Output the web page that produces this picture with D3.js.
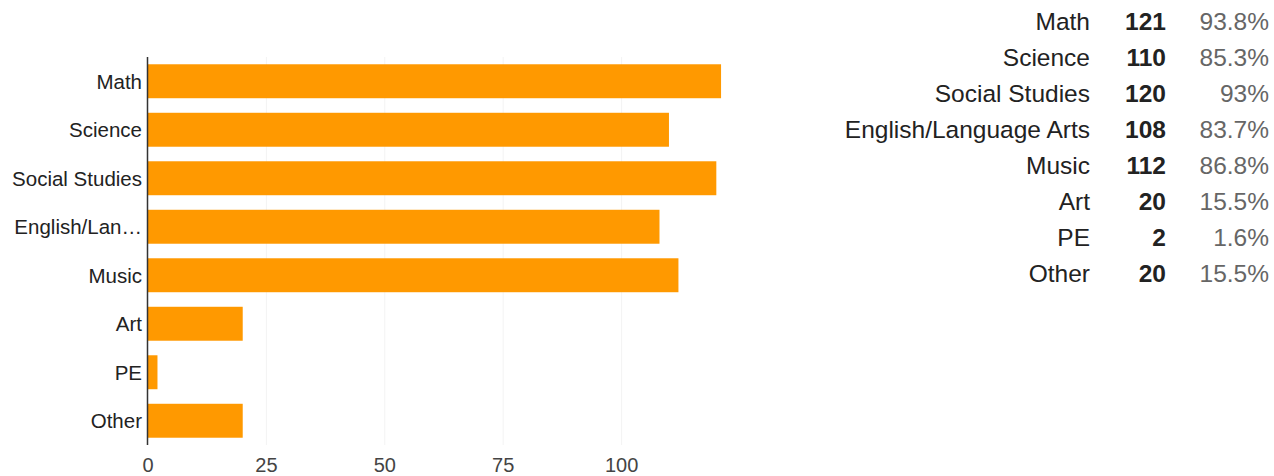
<!DOCTYPE html>
<html>
<head>
<meta charset="utf-8">
<script src="https://cdn.jsdelivr.net/npm/d3@7"></script>
<style>
  html, body { margin: 0; padding: 0; background: #fff; }
  svg { display: block; font-family: "Liberation Sans", Arial, sans-serif; }
</style>
</head>
<body>
<svg id="chart" width="1274" height="476"></svg>
<script>
var subjects = ["Math", "Science", "Social Studies", "English/Language Arts", "Music", "Art", "PE", "Other"];
var counts = [121, 110, 120, 108, 112, 20, 2, 20];
var percents = ["93.8%", "85.3%", "93%", "83.7%", "86.8%", "15.5%", "1.6%", "15.5%"];
var xTicks = [0, 25, 50, 75, 100];

var svg = d3.select("#chart");
var plotLeft = 148, plotRight = 148 + 125 * 4.736, plotTop = 57, plotBottom = 445;

var x = d3.scaleLinear().domain([0, 125]).range([plotLeft, plotRight]);
var y = d3.scaleBand().domain(subjects).range([plotTop, plotBottom]).paddingInner(0.3).paddingOuter(0.15);

// faint vertical gridlines
svg.append("g").selectAll("line")
    .data(xTicks.slice(1))
    .enter().append("line")
    .attr("x1", function (d) { return x(d); })
    .attr("x2", function (d) { return x(d); })
    .attr("y1", plotTop).attr("y2", plotBottom)
    .attr("stroke", "#f3f3f3").attr("stroke-width", 1);

// bars
svg.append("g").selectAll("rect")
    .data(subjects)
    .enter().append("rect")
    .attr("x", x(0))
    .attr("y", function (d) { return y(d); })
    .attr("width", function (d, i) { return x(counts[i]) - x(0); })
    .attr("height", y.bandwidth())
    .attr("fill", "#ff9900");

// y axis line
svg.append("line")
    .attr("x1", plotLeft - 0.5).attr("x2", plotLeft - 0.5)
    .attr("y1", plotTop).attr("y2", plotBottom)
    .attr("stroke", "#333").attr("stroke-width", 1.5);

// category labels, cut short with an ellipsis when too wide
function fitLabel(sel, maxW) {
    sel.each(function (d) {
        var t = d3.select(this), s = d;
        t.text(s);
        while (this.getComputedTextLength() > maxW && s.length > 1) {
            s = s.slice(0, -1);
            t.text(s + "\u2026");
        }
    });
}
svg.append("g").selectAll("text")
    .data(subjects)
    .enter().append("text")
    .attr("x", 142)
    .attr("y", function (d) { return y(d) + y.bandwidth() / 2; })
    .attr("dy", "0.36em")
    .attr("text-anchor", "end")
    .attr("font-size", 20.5)
    .attr("fill", "#222")
    .call(fitLabel, 135);

// x tick labels
svg.append("g").selectAll("text")
    .data(xTicks)
    .enter().append("text")
    .attr("x", function (d) { return x(d); })
    .attr("y", 472)
    .attr("text-anchor", "middle")
    .attr("font-size", 20)
    .attr("fill", "#444")
    .text(function (d) { return d; });

// summary table on the right
var rowY = function (i) { return 30 + i * 36; };
var table = svg.append("g").attr("font-size", 24.5);
table.selectAll("text.label")
    .data(subjects)
    .enter().append("text").attr("class", "label")
    .attr("x", 1090).attr("y", function (d, i) { return rowY(i); })
    .attr("text-anchor", "end").attr("fill", "#222")
    .text(function (d) { return d; });
table.selectAll("text.count")
    .data(counts)
    .enter().append("text").attr("class", "count")
    .attr("x", 1166).attr("y", function (d, i) { return rowY(i); })
    .attr("text-anchor", "end").attr("fill", "#222").attr("font-weight", "bold")
    .text(function (d) { return d; });
table.selectAll("text.pct")
    .data(percents)
    .enter().append("text").attr("class", "pct")
    .attr("x", 1269).attr("y", function (d, i) { return rowY(i); })
    .attr("text-anchor", "end").attr("fill", "#666")
    .text(function (d) { return d; });
</script>
</body>
</html>
